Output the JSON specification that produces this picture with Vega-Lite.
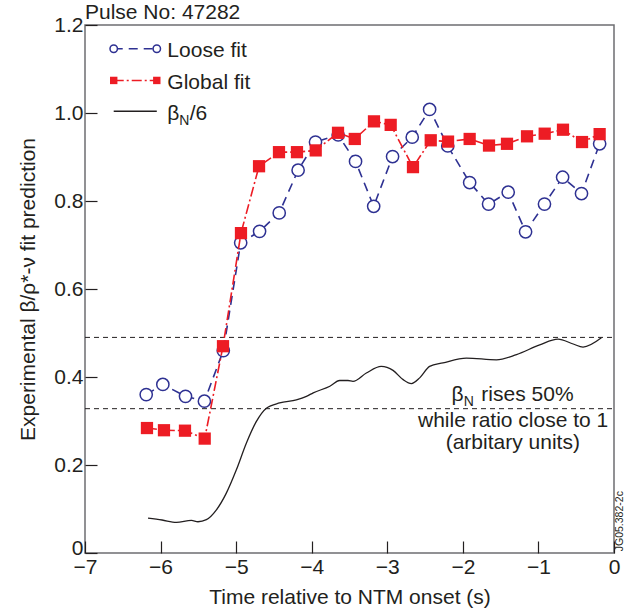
{
  "$schema": "https://vega.github.io/schema/vega-lite/v6.json",
  "width": 529,
  "height": 528,
  "autosize": {"type": "none"},
  "padding": {"left": 85, "top": 25, "right": 25, "bottom": 57},
  "config": {
    "view": {"stroke": "#6d6e71", "strokeWidth": 1.5},
    "font": "Liberation Sans",
    "axis": {"domain": false, "grid": false, "labelFlush": false, "tickColor": "#231f20", "tickWidth": 1.2, "labelFontSize": 21, "titleFontSize": 21, "titleFontWeight": "normal", "labelColor": "#231f20", "titleColor": "#231f20", "labelFont": "Liberation Sans", "titleFont": "Liberation Sans"}
  },
  "datasets": {
    "loose": [
      {"x": -6.19, "y": 0.360, "part": "data"},
      {"x": -5.97, "y": 0.383, "part": "data"},
      {"x": -5.67, "y": 0.356, "part": "data"},
      {"x": -5.42, "y": 0.345, "part": "data"},
      {"x": -5.17, "y": 0.460, "part": "data"},
      {"x": -4.94, "y": 0.705, "part": "data"},
      {"x": -4.69, "y": 0.731, "part": "data"},
      {"x": -4.43, "y": 0.773, "part": "data"},
      {"x": -4.18, "y": 0.870, "part": "data"},
      {"x": -3.95, "y": 0.934, "part": "data"},
      {"x": -3.65, "y": 0.950, "part": "data"},
      {"x": -3.42, "y": 0.890, "part": "data"},
      {"x": -3.18, "y": 0.788, "part": "data"},
      {"x": -2.93, "y": 0.901, "part": "data"},
      {"x": -2.67, "y": 0.945, "part": "data"},
      {"x": -2.44, "y": 1.008, "part": "data"},
      {"x": -2.20, "y": 0.925, "part": "data"},
      {"x": -1.91, "y": 0.842, "part": "data"},
      {"x": -1.66, "y": 0.793, "part": "data"},
      {"x": -1.40, "y": 0.820, "part": "data"},
      {"x": -1.17, "y": 0.730, "part": "data"},
      {"x": -0.92, "y": 0.793, "part": "data"},
      {"x": -0.68, "y": 0.854, "part": "data"},
      {"x": -0.43, "y": 0.817, "part": "data"},
      {"x": -0.19, "y": 0.930, "part": "data"},
      {"x": -6.62, "y": 1.146, "part": "legend"},
      {"x": -6.05, "y": 1.146, "part": "legend"}
    ],
    "global": [
      {"x": -6.18, "y": 0.284, "part": "data"},
      {"x": -5.955, "y": 0.279, "part": "data"},
      {"x": -5.677, "y": 0.278, "part": "data"},
      {"x": -5.416, "y": 0.260, "part": "data"},
      {"x": -5.174, "y": 0.470, "part": "data"},
      {"x": -4.936, "y": 0.727, "part": "data"},
      {"x": -4.697, "y": 0.879, "part": "data"},
      {"x": -4.433, "y": 0.911, "part": "data"},
      {"x": -4.195, "y": 0.911, "part": "data"},
      {"x": -3.947, "y": 0.915, "part": "data"},
      {"x": -3.652, "y": 0.955, "part": "data"},
      {"x": -3.43, "y": 0.941, "part": "data"},
      {"x": -3.176, "y": 0.981, "part": "data"},
      {"x": -2.955, "y": 0.973, "part": "data"},
      {"x": -2.66, "y": 0.877, "part": "data"},
      {"x": -2.425, "y": 0.938, "part": "data"},
      {"x": -2.196, "y": 0.935, "part": "data"},
      {"x": -1.91, "y": 0.941, "part": "data"},
      {"x": -1.654, "y": 0.926, "part": "data"},
      {"x": -1.416, "y": 0.930, "part": "data"},
      {"x": -1.151, "y": 0.947, "part": "data"},
      {"x": -0.917, "y": 0.953, "part": "data"},
      {"x": -0.675, "y": 0.962, "part": "data"},
      {"x": -0.423, "y": 0.934, "part": "data"},
      {"x": -0.19, "y": 0.952, "part": "data"},
      {"x": -6.62, "y": 1.074, "part": "legend"},
      {"x": -6.05, "y": 1.074, "part": "legend"}
    ],
    "beta": [
      {"x": -6.166, "y": 0.0795, "part": "data"},
      {"x": -5.98, "y": 0.075, "part": "data"},
      {"x": -5.79, "y": 0.0696, "part": "data"},
      {"x": -5.592, "y": 0.074, "part": "data"},
      {"x": -5.505, "y": 0.071, "part": "data"},
      {"x": -5.394, "y": 0.0757, "part": "data"},
      {"x": -5.261, "y": 0.098, "part": "data"},
      {"x": -5.13, "y": 0.136, "part": "data"},
      {"x": -4.997, "y": 0.189, "part": "data"},
      {"x": -4.864, "y": 0.25, "part": "data"},
      {"x": -4.732, "y": 0.299, "part": "data"},
      {"x": -4.6, "y": 0.329, "part": "data"},
      {"x": -4.424, "y": 0.341, "part": "data"},
      {"x": -4.203, "y": 0.348, "part": "data"},
      {"x": -4.07, "y": 0.356, "part": "data"},
      {"x": -3.98, "y": 0.364, "part": "data"},
      {"x": -3.76, "y": 0.379, "part": "data"},
      {"x": -3.63, "y": 0.392, "part": "data"},
      {"x": -3.52, "y": 0.392, "part": "data"},
      {"x": -3.454, "y": 0.390, "part": "data"},
      {"x": -3.277, "y": 0.409, "part": "data"},
      {"x": -3.08, "y": 0.424, "part": "data"},
      {"x": -2.924, "y": 0.415, "part": "data"},
      {"x": -2.79, "y": 0.394, "part": "data"},
      {"x": -2.68, "y": 0.385, "part": "data"},
      {"x": -2.571, "y": 0.398, "part": "data"},
      {"x": -2.44, "y": 0.424, "part": "data"},
      {"x": -2.263, "y": 0.432, "part": "data"},
      {"x": -1.953, "y": 0.443, "part": "data"},
      {"x": -1.556, "y": 0.439, "part": "data"},
      {"x": -1.29, "y": 0.451, "part": "data"},
      {"x": -0.983, "y": 0.473, "part": "data"},
      {"x": -0.741, "y": 0.486, "part": "data"},
      {"x": -0.54, "y": 0.475, "part": "data"},
      {"x": -0.41, "y": 0.468, "part": "data"},
      {"x": -0.167, "y": 0.489, "part": "data"},
      {"x": -6.62, "y": 1.004, "part": "legend"},
      {"x": -6.05, "y": 1.004, "part": "legend"}
    ],
    "levels": [
      {"x": -7, "x2": 0, "y": 0.49},
      {"x": -7, "x2": 0, "y": 0.328}
    ],
    "labels": [
      {"x": -7.0, "y": 1.213, "text": "Pulse No: 47282", "kind": "main"},
      {"x": -5.91, "y": 1.127, "text": "Loose fit", "kind": "main"},
      {"x": -5.91, "y": 1.055, "text": "Global fit", "kind": "main"},
      {"x": -5.912, "y": 0.983, "text": "β", "kind": "main"},
      {"x": -5.753, "y": 0.983, "text": "N", "kind": "sub"},
      {"x": -5.614, "y": 0.983, "text": "/6", "kind": "main"},
      {"x": -2.151, "y": 0.3445, "text": "β", "kind": "main"},
      {"x": -1.989, "y": 0.3445, "text": "N", "kind": "sub"},
      {"x": -1.755, "y": 0.3445, "text": "rises 50%", "kind": "main"},
      {"x": -2.594, "y": 0.2855, "text": "while ratio close to 1", "kind": "main"},
      {"x": -2.227, "y": 0.2364, "text": "(arbitary units)", "kind": "main"}
    ],
    "code": [
      {"x": 0.122, "y": 0.004, "text": "JG05.382-2c"}
    ]
  },
  "encoding": {
    "x": {"field": "x", "type": "quantitative", "scale": {"domain": [-7, 0], "nice": false, "zero": false},
      "axis": {"title": "Time relative to NTM onset (s)", "values": [-7, -6, -5, -4, -3, -2, -1, 0], "format": "d", "tickSize": -12, "labelPadding": 15, "titlePadding": 9}},
    "y": {"field": "y", "type": "quantitative", "scale": {"domain": [0, 1.2], "nice": false, "zero": false},
      "axis": {"title": "Experimental β/ρ*-ν fit prediction", "values": [0, 0.2, 0.4, 0.6, 0.8, 1, 1.2], "labelExpr": "datum.value == 0 ? '0' : format(datum.value, '.1f')", "labelOffset": {"condition": {"test": "datum.value == 0", "value": -5}, "value": 0}, "tickSize": -12, "labelPadding": 14, "titlePadding": 15}}
  },
  "layer": [
    {
      "data": {"name": "levels"},
      "mark": {"type": "rule", "color": "#231f20", "strokeWidth": 1, "strokeDash": [5, 4]},
      "encoding": {"x2": {"field": "x2"}}
    },
    {
      "data": {"name": "beta"},
      "mark": {"type": "line", "color": "#231f20", "strokeWidth": 1.3, "interpolate": "monotone", "clip": false},
      "encoding": {"detail": {"field": "part"}}
    },
    {
      "data": {"name": "loose"},
      "mark": {"type": "line", "color": "#2e3192", "strokeWidth": 1.6, "strokeDash": [9, 6], "clip": false},
      "encoding": {"detail": {"field": "part"}}
    },
    {
      "data": {"name": "loose"},
      "mark": {"type": "point", "shape": "circle", "filled": false, "fill": "white", "fillOpacity": 1, "stroke": "#2e3192", "strokeWidth": 1.5, "opacity": 1, "clip": false},
      "encoding": {"size": {"field": "part", "type": "nominal", "scale": {"domain": ["data", "legend"], "range": [150, 55]}, "legend": null}}
    },
    {
      "data": {"name": "global"},
      "mark": {"type": "line", "color": "#ed1c24", "strokeWidth": 1.6, "strokeDash": [10, 3, 2, 3], "clip": false},
      "encoding": {"detail": {"field": "part"}}
    },
    {
      "data": {"name": "global"},
      "mark": {"type": "square", "color": "#ed1c24", "opacity": 1, "clip": false},
      "encoding": {"size": {"field": "part", "type": "nominal", "scale": {"domain": ["data", "legend"], "range": [150, 64]}, "legend": null}}
    },
    {
      "data": {"name": "labels"},
      "transform": [{"filter": "datum.kind == 'main'"}],
      "mark": {"type": "text", "align": "left", "baseline": "alphabetic", "fontSize": 21, "color": "#231f20", "clip": false},
      "encoding": {"text": {"field": "text"}}
    },
    {
      "data": {"name": "labels"},
      "transform": [{"filter": "datum.kind == 'sub'"}],
      "mark": {"type": "text", "align": "left", "baseline": "alphabetic", "fontSize": 14, "dy": 4.5, "color": "#231f20", "clip": false},
      "encoding": {"text": {"field": "text"}}
    },
    {
      "data": {"name": "code"},
      "mark": {"type": "text", "align": "left", "baseline": "alphabetic", "angle": 270, "fontSize": 10.5, "color": "#231f20", "clip": false},
      "encoding": {"text": {"field": "text"}}
    }
  ]
}
